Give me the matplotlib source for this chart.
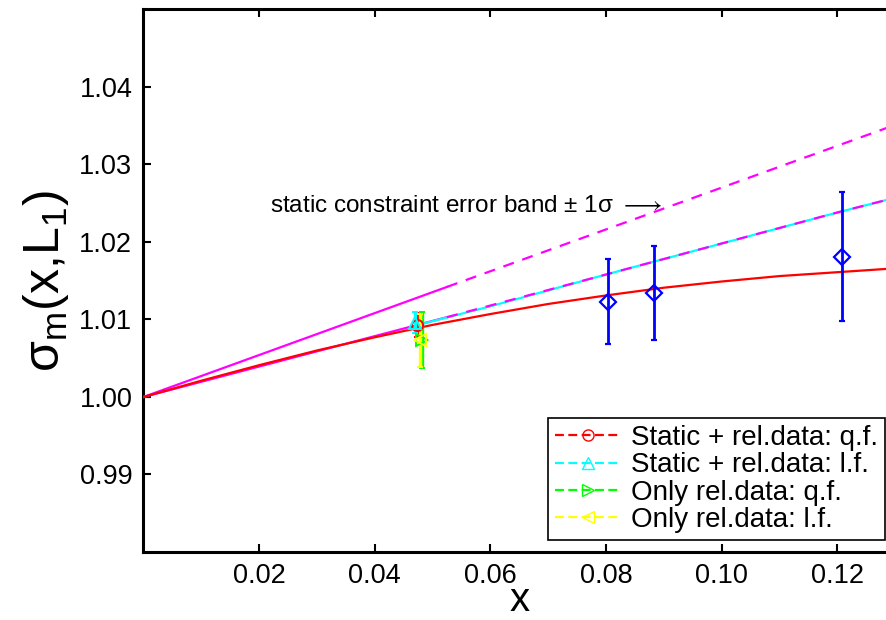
import matplotlib
matplotlib.use("Agg")
import matplotlib.pyplot as plt
from matplotlib.lines import Line2D
from matplotlib.ticker import FormatStrFormatter

plt.rcParams['font.family'] = ['Liberation Sans', 'DejaVu Sans']
plt.rcParams['mathtext.fontset'] = 'custom'
plt.rcParams['mathtext.rm'] = 'Liberation Sans'
plt.rcParams['mathtext.it'] = 'Liberation Sans'

# ---- data ----
# quadratic fit (static + rel. data), red curve
red_x = [0.0, 0.01, 0.02, 0.03, 0.04, 0.05, 0.06, 0.07, 0.08, 0.09, 0.10, 0.11, 0.12, 0.13]
red_y = [1.0000, 1.0021, 1.0041, 1.0060, 1.0077, 1.0093, 1.0107, 1.0120, 1.0131, 1.0141, 1.0149, 1.0156, 1.0161, 1.0166]
# linear fit (static + rel. data), cyan line
cyan_x = [0.047, 0.06, 0.08, 0.10, 0.12, 0.13]
cyan_y = [1.0092, 1.0117, 1.0158, 1.0198, 1.0238, 1.0257]
# static constraint error band (magenta)
band_up_solid_x = [0.0, 0.0525]
band_up_solid_y = [1.0000, 1.0142]
band_up_dash_x = [0.0525, 0.13]
band_up_dash_y = [1.0142, 1.0351]
band_lo_solid_x = [0.0, 0.0525]
band_lo_solid_y = [1.0000, 1.0103]
band_lo_dash_x = [0.0525, 0.08, 0.10, 0.12, 0.13]
band_lo_dash_y = [1.0103, 1.0158, 1.0198, 1.0238, 1.0257]

# lattice data points (blue diamonds)
pts_x = [0.0804, 0.0884, 0.1208]
pts_y = [1.0123, 1.0134, 1.0181]
pts_err = [0.0055, 0.0061, 0.0083]

# fitted values at x ~ 0.047
fit_labels = ['Static + rel.data: q.f.', 'Static + rel.data: l.f.',
              'Only rel.data: q.f.', 'Only rel.data: l.f.']
fit_x = [0.0474, 0.0469, 0.0481, 0.0479]
fit_y = [1.0093, 1.0096, 1.0074, 1.0073]
fit_err = [0.0015, 0.0014, 0.0036, 0.0034]
fit_colors = ['#ff0000', '#00ffff', '#00ff00', '#ffff00']
fit_markers = ['o', '^', '>', '<']

annot_text = 'static constraint error band \u00b1 1\u03c3 $\\longrightarrow$'

# ---- figure ----
fig = plt.figure(figsize=(8.87, 6.2), dpi=100)
ax = fig.add_axes([0.1617, 0.1097, 0.8473, 0.875])

ax.plot(band_up_solid_x, band_up_solid_y, color='#ff00ff', lw=1.6, zorder=3)
ax.plot(band_lo_solid_x, band_lo_solid_y, color='#ff00ff', lw=1.6, zorder=3)
ax.plot(red_x, red_y, color='#ff0000', lw=1.6, zorder=4)
ax.plot(cyan_x, cyan_y, color='#00ffff', lw=1.6, zorder=3)
ax.plot(band_up_dash_x, band_up_dash_y, color='#ff00ff', lw=1.6, ls=(0, (5, 4)), zorder=4)
ax.plot(band_lo_dash_x, band_lo_dash_y, color='#ff00ff', lw=1.6, ls=(0, (5, 4)), zorder=4)

for xv, yv, ev, c, m in zip(fit_x, fit_y, fit_err, fit_colors, fit_markers):
    ax.errorbar([xv], [yv], yerr=[ev], fmt=m, color=c, mfc='none', mec=c,
                ms=8, mew=1.4, elinewidth=2.4, capsize=2.5, capthick=2, zorder=5)

ax.errorbar(pts_x, pts_y, yerr=pts_err, fmt='D', color='#0000ff', mfc='none',
            mec='#0000ff', ms=8, mew=1.6, elinewidth=2, capsize=2.2, capthick=2, zorder=6)

ax.text(0.0219, 1.0247, annot_text, fontsize=17.5, ha='left', va='center')

ax.set_xlim(0.0, 0.13)
ax.set_ylim(0.98, 1.05)
ax.set_xticks([0.02, 0.04, 0.06, 0.08, 0.10, 0.12])
ax.set_yticks([0.99, 1.00, 1.01, 1.02, 1.03, 1.04])
ax.xaxis.set_major_formatter(FormatStrFormatter('%.2f'))
ax.yaxis.set_major_formatter(FormatStrFormatter('%.2f'))
ax.tick_params(direction='in', length=6, width=1.5, labelsize=19.5, pad=8,
               top=True, right=True)
for s in ax.spines.values():
    s.set_linewidth(2.2)

ax.set_xlabel('x', fontsize=29, labelpad=-6)
ax.set_ylabel('$\\mathregular{\\sigma_m(x{,}L_1)}$', fontsize=36, labelpad=6)

handles = [Line2D([0], [0], color=c, ls=(0, (4, 2)), lw=1.6, marker=m,
                  mfc='none', mec=c, ms=8, mew=1.0)
           for c, m in zip(fit_colors, fit_markers)]
leg = ax.legend(handles, fit_labels, loc='lower right',
                bbox_to_anchor=(885 / 887, 80 / 620),
                bbox_transform=fig.transFigure, fontsize=20, frameon=True,
                fancybox=False, edgecolor='black', framealpha=1,
                handlelength=2.4, handletextpad=0.35, labelspacing=0.05,
                borderpad=0.25, borderaxespad=0)
leg.get_frame().set_linewidth(1.2)

fig.savefig('out.png', dpi=100)
